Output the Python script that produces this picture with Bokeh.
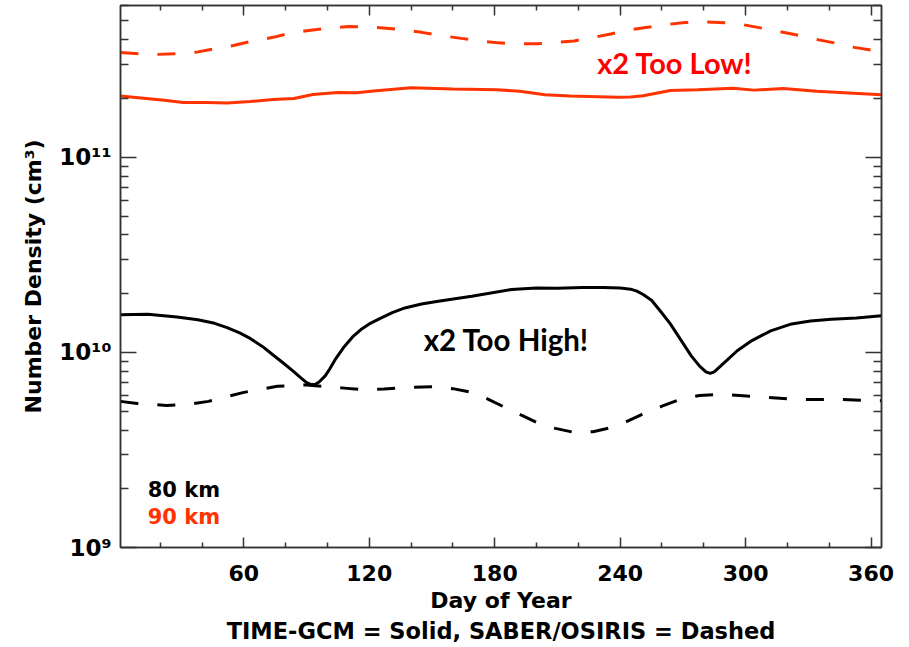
from bokeh.plotting import figure
from bokeh.models import Range1d, FixedTicker, LinearAxis, LogAxis, Label, Title
from bokeh.embed import file_html
from bokeh.resources import INLINE

# ---------------- data ----------------
# 90 km, SABER/OSIRIS (dashed, red)
day_90_obs = [1, 10, 19, 28, 38, 46, 55, 64, 74, 82, 91, 100, 110, 118, 128, 137,
              145, 154, 164, 173, 182, 191, 200, 208, 218, 227, 236, 244, 254,
              262, 271, 280, 290, 299, 308, 316, 326, 335, 343, 352, 365]
dens_90_obs = [3.45e11, 3.39e11, 3.37e11, 3.40e11, 3.47e11, 3.60e11, 3.74e11,
               3.94e11, 4.12e11, 4.33e11, 4.47e11, 4.59e11, 4.68e11, 4.67e11,
               4.59e11, 4.50e11, 4.37e11, 4.21e11, 4.07e11, 3.95e11, 3.86e11,
               3.82e11, 3.82e11, 3.87e11, 3.95e11, 4.11e11, 4.30e11, 4.50e11,
               4.65e11, 4.79e11, 4.91e11, 4.94e11, 4.89e11, 4.78e11, 4.59e11,
               4.42e11, 4.21e11, 4.00e11, 3.85e11, 3.66e11, 3.48e11]

# 90 km, TIME-GCM (solid, red)
day_90_mod = [1, 12, 22, 31, 42, 52, 63, 74, 84, 93, 105, 114, 122, 140, 160,
              181, 192, 204, 216, 239, 245, 251, 264, 277, 294, 304, 318, 334, 365]
dens_90_mod = [2.06e11, 2.01e11, 1.96e11, 1.91e11, 1.91e11, 1.90e11, 1.93e11,
               1.98e11, 2.00e11, 2.10e11, 2.15e11, 2.14e11, 2.19e11, 2.27e11,
               2.24e11, 2.22e11, 2.18e11, 2.09e11, 2.06e11, 2.03e11, 2.04e11,
               2.07e11, 2.20e11, 2.22e11, 2.26e11, 2.21e11, 2.25e11, 2.18e11,
               2.09e11]

# 80 km, TIME-GCM (solid, black)
day_80_mod = [1, 14, 28, 38, 46, 52, 58, 63, 69, 74, 79, 84, 87, 90, 92, 94,
              96, 99, 101, 104, 108, 112, 116, 120, 125, 131, 137, 145, 153,
              169, 188, 200, 210, 222, 232, 240, 245, 248, 251, 255, 259, 264,
              269, 274, 278, 281, 283, 285, 288, 291, 296, 303, 312, 322, 331,
              341, 353, 365]
dens_80_mod = [1.56e10, 1.57e10, 1.52e10, 1.47e10, 1.41e10, 1.34e10, 1.26e10,
               1.18e10, 1.07e10, 9.70e9, 8.80e9, 7.95e9, 7.45e9, 7.00e9, 6.85e9,
               6.85e9, 7.05e9, 7.60e9, 8.20e9, 9.30e9, 1.07e10, 1.20e10, 1.31e10,
               1.40e10, 1.49e10, 1.60e10, 1.69e10, 1.77e10, 1.83e10, 1.94e10,
               2.10e10, 2.14e10, 2.13e10, 2.15e10, 2.15e10, 2.14e10, 2.11e10,
               2.06e10, 1.98e10, 1.85e10, 1.64e10, 1.40e10, 1.16e10, 9.60e9,
               8.50e9, 7.95e9, 7.80e9, 7.95e9, 8.50e9, 9.10e9, 1.02e10, 1.15e10,
               1.29e10, 1.40e10, 1.45e10, 1.48e10, 1.50e10, 1.54e10]

# 80 km, SABER/OSIRIS (dashed, black)
day_80_obs = [1, 9, 23, 33, 43, 60, 76, 90, 108, 117, 127, 140, 151, 160, 169,
              177, 185, 193, 200, 209, 218, 227, 236, 243, 250, 260, 269, 278,
              288, 306, 325, 344, 365]
dens_80_obs = [5.61e9, 5.47e9, 5.35e9, 5.40e9, 5.61e9, 6.24e9, 6.70e9, 6.81e9,
               6.56e9, 6.44e9, 6.49e9, 6.62e9, 6.67e9, 6.52e9, 6.24e9, 5.75e9,
               5.22e9, 4.75e9, 4.38e9, 4.08e9, 3.89e9, 3.92e9, 4.12e9, 4.42e9,
               4.79e9, 5.30e9, 5.77e9, 6.02e9, 6.10e9, 5.93e9, 5.74e9, 5.74e9,
               5.65e9]

x_major = [60, 120, 180, 240, 300, 360]
x_minor = [20, 40, 80, 100, 140, 160, 200, 220, 260, 280, 320, 340]
y_major = [1e9, 1e10, 1e11]
y_minor = [m * d for d in (1e9, 1e10, 1e11) for m in range(2, 10)]
y_labels = {1e9: "10\u2079", 1e10: "10\u00b9\u2070", 1e11: "10\u00b9\u00b9"}

RED = "#FF3300"
FONT = "DejaVu Sans"

p = figure(width=909, height=647, y_axis_type="log",
           x_range=Range1d(1, 365), y_range=Range1d(1e9, 6e11),
           output_backend="svg", toolbar_location=None,
           min_border_left=120, min_border_right=28,
           min_border_top=5, min_border_bottom=100)
p.grid.visible = False
p.outline_line_color = "#333333"
p.outline_line_width = 1.5
p.background_fill_color = "white"
p.border_fill_color = "white"

p.line(day_90_obs, dens_90_obs, line_color=RED, line_width=3, line_dash="18 19")
p.line(day_90_mod, dens_90_mod, line_color=RED, line_width=3)
p.line(day_80_mod, dens_80_mod, line_color="black", line_width=3)
p.line(day_80_obs, dens_80_obs, line_color="black", line_width=3, line_dash="18 19")

xt = FixedTicker(ticks=x_major, minor_ticks=x_minor)
yt = FixedTicker(ticks=y_major, minor_ticks=y_minor)


def style_common(ax):
    ax.major_tick_out = 0
    ax.minor_tick_out = 0
    ax.axis_line_color = "#333333"
    ax.axis_line_width = 1.5
    ax.major_tick_line_color = "#333333"
    ax.minor_tick_line_color = "#333333"
    ax.major_tick_line_width = 1.5
    ax.minor_tick_line_width = 1.5


def hide_labels(ax):
    ax.major_label_text_font_size = "1px"
    ax.major_label_text_alpha = 0
    ax.major_label_standoff = 0


xb = p.xaxis[0]
xb.ticker = xt
style_common(xb)
xb.major_tick_in = 10
xb.minor_tick_in = 5
xb.major_label_text_font = FONT
xb.major_label_text_font_style = "bold"
xb.major_label_text_font_size = "22px"
xb.major_label_text_color = "black"
xb.major_label_standoff = 17
xb.axis_label = "Day of Year"
xb.axis_label_text_font = FONT
xb.axis_label_text_font_style = "bold"
xb.axis_label_text_font_size = "22px"
xb.axis_label_text_color = "black"
xb.axis_label_standoff = 4

yl = p.yaxis[0]
yl.ticker = yt
style_common(yl)
yl.major_tick_in = 16
yl.minor_tick_in = 8
yl.major_label_overrides = y_labels
yl.major_label_text_font = FONT
yl.major_label_text_font_style = "bold"
yl.major_label_text_font_size = "23px"
yl.major_label_text_color = "black"
yl.major_label_standoff = 9
yl.axis_label = "Number Density (cm\u00b3)"
yl.axis_label_text_font = FONT
yl.axis_label_text_font_style = "bold"
yl.axis_label_text_font_size = "22px"
yl.axis_label_text_color = "black"
yl.axis_label_standoff = 10

xa = LinearAxis(ticker=xt)
style_common(xa)
xa.major_tick_in = 10
xa.minor_tick_in = 5
hide_labels(xa)
p.add_layout(xa, "above")

yr = LogAxis(ticker=yt)
style_common(yr)
yr.major_tick_in = 16
yr.minor_tick_in = 8
hide_labels(yr)
p.add_layout(yr, "right")

p.add_layout(Title(text="TIME-GCM = Solid, SABER/OSIRIS = Dashed", align="center",
                   text_font=FONT, text_font_style="bold", text_font_size="22.5px",
                   text_color="black", standoff=0, offset=0), "below")

p.add_layout(Label(x=229, y=3.06e11, text="x2 Too Low!", text_color="#FF0000",
                   text_font="Lato", text_font_style="bold", text_font_size="29px",
                   text_baseline="alphabetic"))
p.add_layout(Label(x=146, y=1.16e10, text="x2 Too High!", text_color="black",
                   text_font="Lato", text_font_style="bold", text_font_size="29.5px",
                   text_baseline="alphabetic"))
p.add_layout(Label(x=14, y=1.97e9, text="80 km", text_color="black",
                   text_font=FONT, text_font_style="bold", text_font_size="21px",
                   text_baseline="alphabetic"))
p.add_layout(Label(x=14, y=1.44e9, text="90 km", text_color=RED,
                   text_font=FONT, text_font_style="bold", text_font_size="21px",
                   text_baseline="alphabetic"))

open("out.html", "w").write(file_html(p, INLINE))
